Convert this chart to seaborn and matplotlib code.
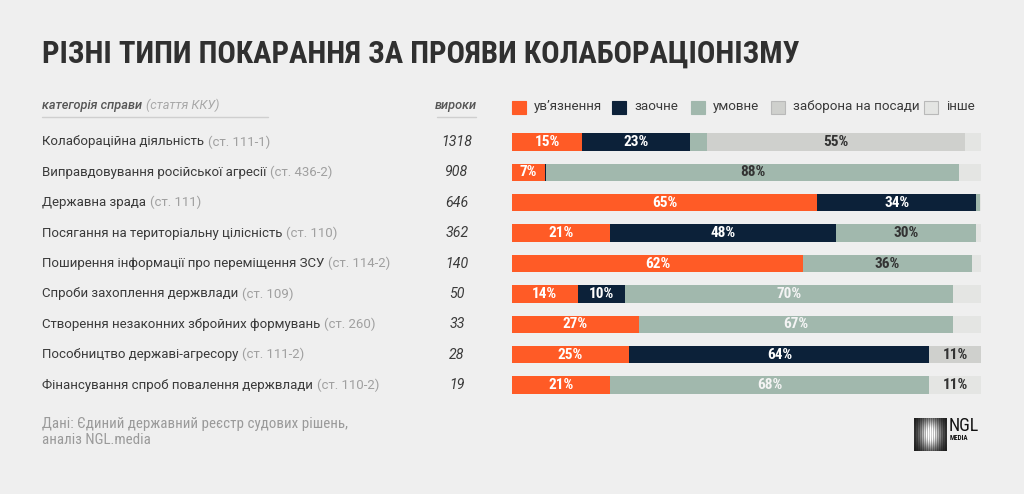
import os
import numpy as np
import pandas as pd
import matplotlib
matplotlib.use("Agg")
import matplotlib.pyplot as plt
import seaborn as sns
from matplotlib import font_manager as fm
from matplotlib.font_manager import FontProperties
from matplotlib.transforms import blended_transform_factory
from matplotlib.patches import Rectangle
from matplotlib.lines import Line2D

# ---------------- data ----------------
title = "РІЗНІ ТИПИ ПОКАРАННЯ ЗА ПРОЯВИ КОЛАБОРАЦІОНІЗМУ"
categories = [
    "Колабораційна діяльність",
    "Виправдовування російської агресії",
    "Державна зрада",
    "Посягання на територіальну цілісність",
    "Поширення інформації про переміщення ЗСУ",
    "Спроби захоплення держвлади",
    "Створення незаконних збройних формувань",
    "Пособництво державі-агресору",
    "Фінансування спроб повалення держвлади",
]
articles = ["(ст. 111-1)", "(ст. 436-2)", "(ст. 111)", "(ст. 110)", "(ст. 114-2)",
            "(ст. 109)", "(ст. 260)", "(ст. 111-2)", "(ст. 110-2)"]
verdicts = [1318, 908, 646, 362, 140, 50, 33, 28, 19]

prison    = [15, 7, 65, 21, 62, 14, 27, 25, 21]
absentia  = [23, 0.3, 34, 48, 0, 10, 0, 64, 0]
suspended = [3.5, 88, 0.8, 30, 36, 70, 67, 0, 68]
ban       = [55, 0, 0, 0, 0, 0, 0, 11, 0]
other     = [3.5, 4.7, 0.2, 1, 2, 6, 6, 0, 11]

series_names = ["ув’язнення", "заочне", "умовне", "заборона на посади", "інше"]
header_left = "категорія справи"
header_left_note = "(стаття ККУ)"
header_mid = "вироки"
source_text = "Дані: Єдиний державний реєстр судових рішень,\nаналіз NGL.media"

# ---------------- style ----------------
BG = "#efefef"
colors = ["#ff5b26", "#0c2139", "#a1b8ad", "#cfd0cd", "#e4e5e3"]
label_colors = ["white", "white", None, "#333333", "#333333"]
green_label_colors = ["#333333"] * 5 + ["#f4f4f4"] * 4
MIN_LABEL = 7

W, H = 1024, 494


def fx(px):
    return px / W


def fy(py):
    return 1 - py / H


def _w(f):
    w = f.weight
    if isinstance(w, str):
        return {"normal": 400, "regular": 400, "bold": 700, "black": 900, "heavy": 900}.get(w, 400)
    return w


def font_file(pred):
    for f in fm.fontManager.ttflist:
        try:
            if pred(f):
                return f.fname
        except Exception:
            pass
    return None


cond_bold_file = (
    font_file(lambda f: f.name == "Roboto Condensed" and _w(f) >= 700 and f.style == "normal")
    or font_file(lambda f: f.name == "Liberation Sans Narrow" and _w(f) >= 700 and f.style == "normal")
    or font_file(lambda f: os.path.basename(f.fname) == "DejaVuSansCondensed-Bold.ttf")
)
cond_black_file = (
    font_file(lambda f: f.name == "Roboto Condensed" and _w(f) >= 800 and f.style == "normal")
    or cond_bold_file
)
cond_reg_file = (
    font_file(lambda f: f.name == "Roboto Condensed" and _w(f) == 400 and f.style == "normal")
    or font_file(lambda f: f.name == "Liberation Sans Narrow" and _w(f) == 400 and f.style == "normal")
    or font_file(lambda f: os.path.basename(f.fname) == "DejaVuSansCondensed.ttf")
)


def fp_file(fname, size, fallback_weight):
    if fname:
        return FontProperties(fname=fname, size=size)
    return FontProperties(family="DejaVu Sans", weight=fallback_weight, size=size)


def fp_cond_bold(size):
    return fp_file(cond_bold_file, size, "bold")


def fp_cond_black(size):
    return fp_file(cond_black_file, size, "bold")


def fp_cond_reg(size):
    return fp_file(cond_reg_file, size, "normal")


BODY = ["Roboto", "DejaVu Sans"]

sns.set_theme(style="white")
plt.rcParams["font.family"] = BODY

fig = plt.figure(figsize=(W / 100, H / 100), dpi=100, facecolor=BG)
renderer = fig.canvas.get_renderer()

# chart axes: x 512..981 px, rows centred 142..385 px
row_px = (385 - 142) / 8
ax_top = 142 - row_px / 2
ax_bot = 385 + row_px / 2
ax = fig.add_axes([fx(512), fy(ax_bot), fx(981) - fx(512), (ax_bot - ax_top) / H])
ax.set_facecolor(BG)

df = pd.DataFrame({"category": categories, "prison": prison, "absentia": absentia,
                   "suspended": suspended, "ban": ban, "other": other})
cols = ["prison", "absentia", "suspended", "ban", "other"]
cum = df[cols].cumsum(axis=1)

# overlay cumulative bars from the widest to the narrowest
for col, c in reversed(list(zip(cols, colors))):
    sns.barplot(data=cum.assign(category=categories), x=col, y="category", order=categories,
                orient="h", color=c, saturation=1, width=0.57, errorbar=None,
                linewidth=0, ax=ax)

ax.set_xlim(0, 100)
ax.set_ylim(len(categories) - 0.5, -0.5)
ax.axis("off")

# segment labels
for j, col in enumerate(cols):
    vals = df[col].values
    starts = (cum[col] - df[col]).values
    for i, v in enumerate(vals):
        if v < MIN_LABEL:
            continue
        tc = label_colors[j] if label_colors[j] else green_label_colors[i]
        ax.text(starts[i] + v / 2, i, f"{round(v)}%", ha="center", va="center",
                color=tc, fontproperties=fp_cond_bold(11))

# left labels
tr = blended_transform_factory(fig.transFigure, ax.transData)
for i, (cat, art, n) in enumerate(zip(categories, articles, verdicts)):
    t = fig.text(fx(42), i, cat, transform=tr, ha="left", va="center",
                 fontsize=9.5, color="#3a3a3a")
    bb = t.get_window_extent(renderer)
    fig.text((bb.x1 + 4) / W, i, art, transform=tr, ha="left", va="center",
             fontsize=9.5, color="#a0a0a0")
    fig.text(fx(457), i, f"{n}", transform=tr, ha="center", va="center",
             fontsize=10.2, color="#3a3a3a", style="italic")

# header
hy = fy(105)
t = fig.text(fx(42), hy, header_left, ha="left", va="center", fontsize=9.2,
             color="#555555", style="italic", weight="medium")
bb = t.get_window_extent(renderer)
fig.text((bb.x1 + 4) / W, hy, header_left_note, ha="left", va="center", fontsize=9.2,
         color="#a8a8a8", style="italic")
fig.text(fx(456), hy, header_mid, ha="center", va="center", fontsize=9.2,
         color="#555555", style="italic", weight="medium")
fig.add_artist(Line2D([fx(42), fx(268)], [fy(117), fy(117)], color="#cfcfcf", lw=1))
fig.add_artist(Line2D([fx(437), fx(476)], [fy(117), fy(117)], color="#cfcfcf", lw=1))

# legend
leg_x = [512, 612, 691, 771, 924]
for xpx, name, c in zip(leg_x, series_names, colors):
    ec = "#b9b9b9" if c in (colors[3], colors[4]) else c
    fig.add_artist(Rectangle((fx(xpx), fy(114.5)), 13.5 / W, 13.5 / H, facecolor=c,
                             edgecolor=ec, lw=0.8, transform=fig.transFigure))
    fig.text(fx(xpx + 22), fy(106.5), name, ha="left", va="center", fontsize=9.6,
             color="#3a3a3a")

# title
tt = fig.text(fx(42), fy(63), title, ha="left", va="baseline", color="#303030",
              fontproperties=fp_cond_black(22))
bb = tt.get_window_extent(renderer)
tt.set_fontsize(22 * 758 / bb.width)

# source
fig.text(fx(42), fy(432), source_text, ha="left", va="center", color="#9a9a9a",
         fontproperties=fp_cond_reg(10.8), linespacing=1.2)

# logo
lax = fig.add_axes([fx(914), fy(451), 33 / W, 33 / H])
xx, yy = np.meshgrid(np.linspace(-1, 1, 33), np.linspace(-1, 1, 33))
glow = np.exp(-(xx ** 2 / 0.45 + yy ** 2 / 0.9))
stripes = np.where(np.arange(33) % 2 == 0, 1.0, 0.7)[None, :]
img = np.clip(0.08 + 1.05 * glow * stripes, 0, 1)
lax.imshow(img, cmap="gray", vmin=0, vmax=1, aspect="auto", interpolation="nearest")
lax.axis("off")
fig.text(fx(949), fy(426), "NGL", ha="left", va="center", color="#111111",
         fontproperties=fp_cond_reg(13))
fig.text(fx(950), fy(438), "MEDIA", ha="left", va="center", color="#111111",
         fontproperties=fp_cond_bold(5))

fig.savefig("out.png", dpi=100, facecolor=BG)
